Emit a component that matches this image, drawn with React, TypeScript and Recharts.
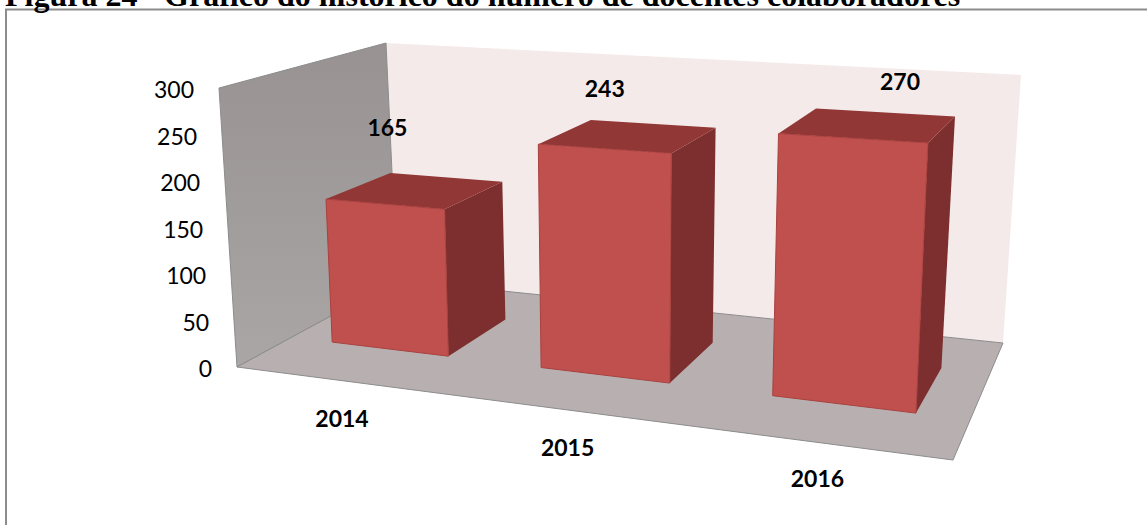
import { Bar, BarChart, Customized, LabelList, XAxis, YAxis } from 'recharts';

const years = ['2014', '2015', '2016'];
const docentes = [165, 243, 270];
const yTicks = [0, 50, 100, 150, 200, 250, 300];
const title = 'Figura 24 - Gráfico do histórico do número de docentes colaboradores';

const chartData = years.map((year, i) => ({ year, docentes: docentes[i] }));

const WIDTH = 1147;
const HEIGHT = 525;
const PLOT = { left: 219, top: 88, right: 1021, bottom: 367 };
const FONT = 'Lato, sans-serif';

type Pt = [number, number];

// unit square -> quad (bottom-left, bottom-right, top-right, top-left)
function makeProjection([p0, p1, p2, p3]: Pt[]) {
  const dx1 = p1[0] - p2[0];
  const dx2 = p3[0] - p2[0];
  const sx = p0[0] - p1[0] + p2[0] - p3[0];
  const dy1 = p1[1] - p2[1];
  const dy2 = p3[1] - p2[1];
  const sy = p0[1] - p1[1] + p2[1] - p3[1];
  const den = dx1 * dy2 - dx2 * dy1;
  const g = (sx * dy2 - dx2 * sy) / den;
  const h = (dx1 * sy - sx * dy1) / den;
  const a = p1[0] - p0[0] + g * p1[0];
  const b = p3[0] - p0[0] + h * p3[0];
  const d = p1[1] - p0[1] + g * p1[1];
  const e = p3[1] - p0[1] + h * p3[1];
  return (px: number, py: number): Pt => {
    const s = (px - PLOT.left) / (PLOT.right - PLOT.left);
    const t = (PLOT.bottom - py) / (PLOT.bottom - PLOT.top);
    const w = g * s + h * t + 1;
    return [(a * s + b * t + p0[0]) / w, (d * s + e * t + p0[1]) / w];
  };
}

// bar front faces, bar back faces, and the box of the walls
const barFront = makeProjection([[290, 337], [973, 420], [989, 115], [277, 75]]);
const barBack = makeProjection([[356, 303], [994, 374], [1012, 90], [344, 56]]);
const boxFront = makeProjection([[237, 367], [953, 460], [975, 105], [219, 88]]);
const boxBack = makeProjection([[397, 280], [1003, 343], [1021, 75], [386, 43]]);

const poly = (pts: Pt[]) => pts.map((p) => p.map((n) => n.toFixed(1)).join(',')).join(' ');

function Walls() {
  const { left: l, right: r, top: t, bottom: b } = PLOT;
  return (
    <g>
      <defs>
        <linearGradient id="leftWall" x1="0" y1="0" x2="0" y2="1">
          <stop offset="0%" stopColor="#989292" />
          <stop offset="100%" stopColor="#aaa6a6" />
        </linearGradient>
      </defs>
      <polygon points={poly([boxBack(l, b), boxBack(r, b), boxBack(r, t), boxBack(l, t)])} fill="#f5eaea" />
      <polygon
        points={poly([boxFront(l, b), boxBack(l, b), boxBack(l, t), boxFront(l, t)])}
        fill="url(#leftWall)"
        stroke="#8c8c8c"
        strokeWidth={1}
      />
      <polygon
        points={poly([boxFront(l, b), boxFront(r, b), boxBack(r, b), boxBack(l, b)])}
        fill="#b8b0b0"
        stroke="#8c8c8c"
        strokeWidth={1}
      />
      <rect x={6} y={9.5} width={WIDTH + 20} height={HEIGHT + 20} fill="none" stroke="#8c8c8c" strokeWidth={2} />
      <text
        x={5}
        y={6}
        fontFamily="'Liberation Serif', serif"
        fontWeight="bold"
        fontSize={32}
        fill="#000"
      >
        {title}
      </text>
    </g>
  );
}

function Bar3D({ x, y, width, height }: any) {
  const l = x;
  const r = x + width;
  const t = y;
  const b = y + height;
  return (
    <g>
      <polygon points={poly([barFront(r, b), barBack(r, b), barBack(r, t), barFront(r, t)])} fill="#7c2f2e" />
      <polygon points={poly([barFront(l, t), barFront(r, t), barBack(r, t), barBack(l, t)])} fill="#913735" />
      <polygon
        points={poly([barFront(l, b), barFront(r, b), barFront(r, t), barFront(l, t)])}
        fill="#c0504d"
        stroke="#a9413f"
        strokeWidth={1}
      />
    </g>
  );
}

const labelNudge: Pt[] = [[3, -77], [1, -61], [48, -57]];
const yearNudge: Pt[] = [[8, 38], [16, 39], [10, 37]];

function ValueLabel(props: any) {
  const box = props.viewBox ?? props;
  const [cx, cy] = barFront(box.x + box.width / 2, box.y);
  const [nx, ny] = labelNudge[props.index];
  return (
    <text
      x={cx + nx}
      y={cy + ny}
      textAnchor="middle"
      dominantBaseline="central"
      fontFamily={FONT}
      fontWeight="bold"
      fontSize={23}
      fill="#000"
    >
      {props.value}
    </text>
  );
}

function YTick({ y, payload }: any) {
  const [ex] = boxFront(PLOT.left, y);
  return (
    <text x={ex - 25} y={y + 1} textAnchor="end" dominantBaseline="central" fontFamily={FONT} fontSize={23} fill="#000">
      {payload.value}
    </text>
  );
}

function XTick({ x, payload, index }: any) {
  const [ex, ey] = boxFront(x, PLOT.bottom);
  const [nx, ny] = yearNudge[index];
  return (
    <text
      x={ex + nx}
      y={ey + ny}
      textAnchor="middle"
      dominantBaseline="central"
      fontFamily={FONT}
      fontWeight="bold"
      fontSize={23}
      fill="#000"
    >
      {payload.value}
    </text>
  );
}

export default function App() {
  return (
    <div style={{ position: 'absolute', left: 0, top: 0, width: WIDTH, height: HEIGHT, overflow: 'hidden', background: '#fff' }}>
      <BarChart
        width={WIDTH}
        height={HEIGHT}
        data={chartData}
        barCategoryGap="21.5%"
        margin={{ left: PLOT.left - 60, top: PLOT.top, right: WIDTH - PLOT.right, bottom: HEIGHT - PLOT.bottom - 60 }}
      >
        <Customized component={Walls} />
        <XAxis dataKey="year" height={60} axisLine={false} tickLine={false} tick={<XTick />} interval={0} />
        <YAxis width={60} domain={[0, 300]} ticks={yTicks} axisLine={false} tickLine={false} tick={<YTick />} />
        <Bar dataKey="docentes" shape={<Bar3D />} isAnimationActive={false}>
          <LabelList dataKey="docentes" content={<ValueLabel />} />
        </Bar>
      </BarChart>
    </div>
  );
}
